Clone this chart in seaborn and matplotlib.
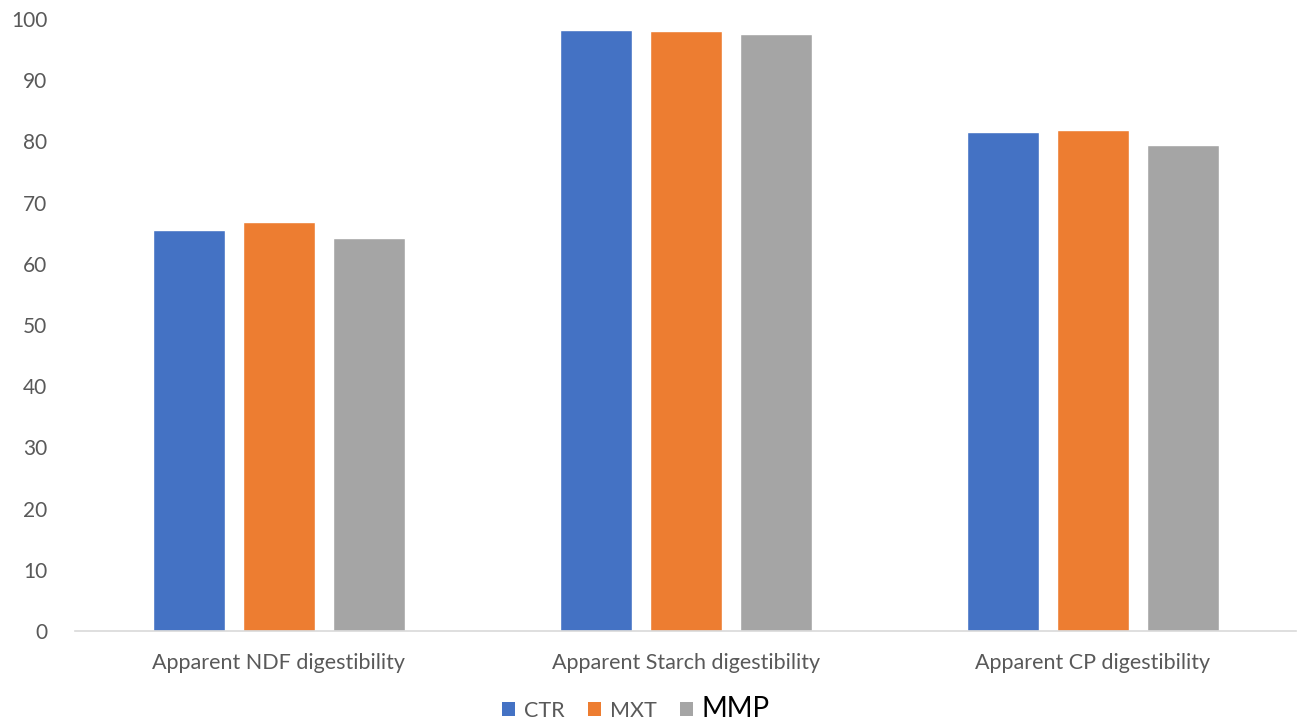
import matplotlib
matplotlib.use("Agg")
import matplotlib.pyplot as plt
import seaborn as sns
import pandas as pd
from matplotlib.patches import Patch

categories = ["Apparent NDF digestibility", "Apparent Starch digestibility", "Apparent CP digestibility"]
treatments = ["CTR", "MXT", "MMP"]
ctr_values = [65.6, 98.2, 81.6]
mxt_values = [66.8, 98.1, 81.8]
mmp_values = [64.2, 97.5, 79.4]
y_ticks = [0, 10, 20, 30, 40, 50, 60, 70, 80, 90, 100]

colors = ["#4472C4", "#ED7D31", "#A5A5A5"]

rows = []
for trt, vals in zip(treatments, [ctr_values, mxt_values, mmp_values]):
    for cat, v in zip(categories, vals):
        rows.append({"category": cat, "treatment": trt, "value": v})
df = pd.DataFrame(rows)

sns.set_theme(style="white")
plt.rcParams["font.family"] = ["Lato", "DejaVu Sans"]

fig = plt.figure(figsize=(13.06, 7.28), dpi=100)
ax = fig.add_axes([0.0575, 0.1332, 0.935, 0.8407])

sns.barplot(data=df, x="category", y="value", hue="treatment", order=categories,
            hue_order=treatments, palette=colors, width=0.663, gap=0.2,
            saturation=1, errorbar=None, legend=False, ax=ax)

ax.set_ylim(0, 100)
ax.set_yticks(y_ticks)
ax.set_xlim(-0.5, 2.5)
ax.set_xlabel("")
ax.set_ylabel("")
ax.tick_params(axis="x", length=0, labelsize=15.5, labelcolor="#595959", pad=16)
ax.tick_params(axis="y", length=0, labelsize=15, labelcolor="#595959", pad=20)
for side in ["left", "right", "top"]:
    ax.spines[side].set_visible(False)
ax.spines["bottom"].set_color("#D9D9D9")
ax.spines["bottom"].set_linewidth(1.2)
ax.grid(False)

handles = [Patch(facecolor=c, edgecolor="none") for c in colors]
leg = fig.legend(handles, treatments, loc="lower center", bbox_to_anchor=(0.487, -0.018),
                 ncol=3, frameon=False, fontsize=15.5, handlelength=0.6, handleheight=0.6,
                 handletextpad=0.4, columnspacing=1.1)
for t in leg.get_texts():
    t.set_color("#595959")
mmp_text = leg.get_texts()[2]
mmp_text.set_color("black")
mmp_text.set_fontsize(20)

fig.savefig("out.png", dpi=100)
